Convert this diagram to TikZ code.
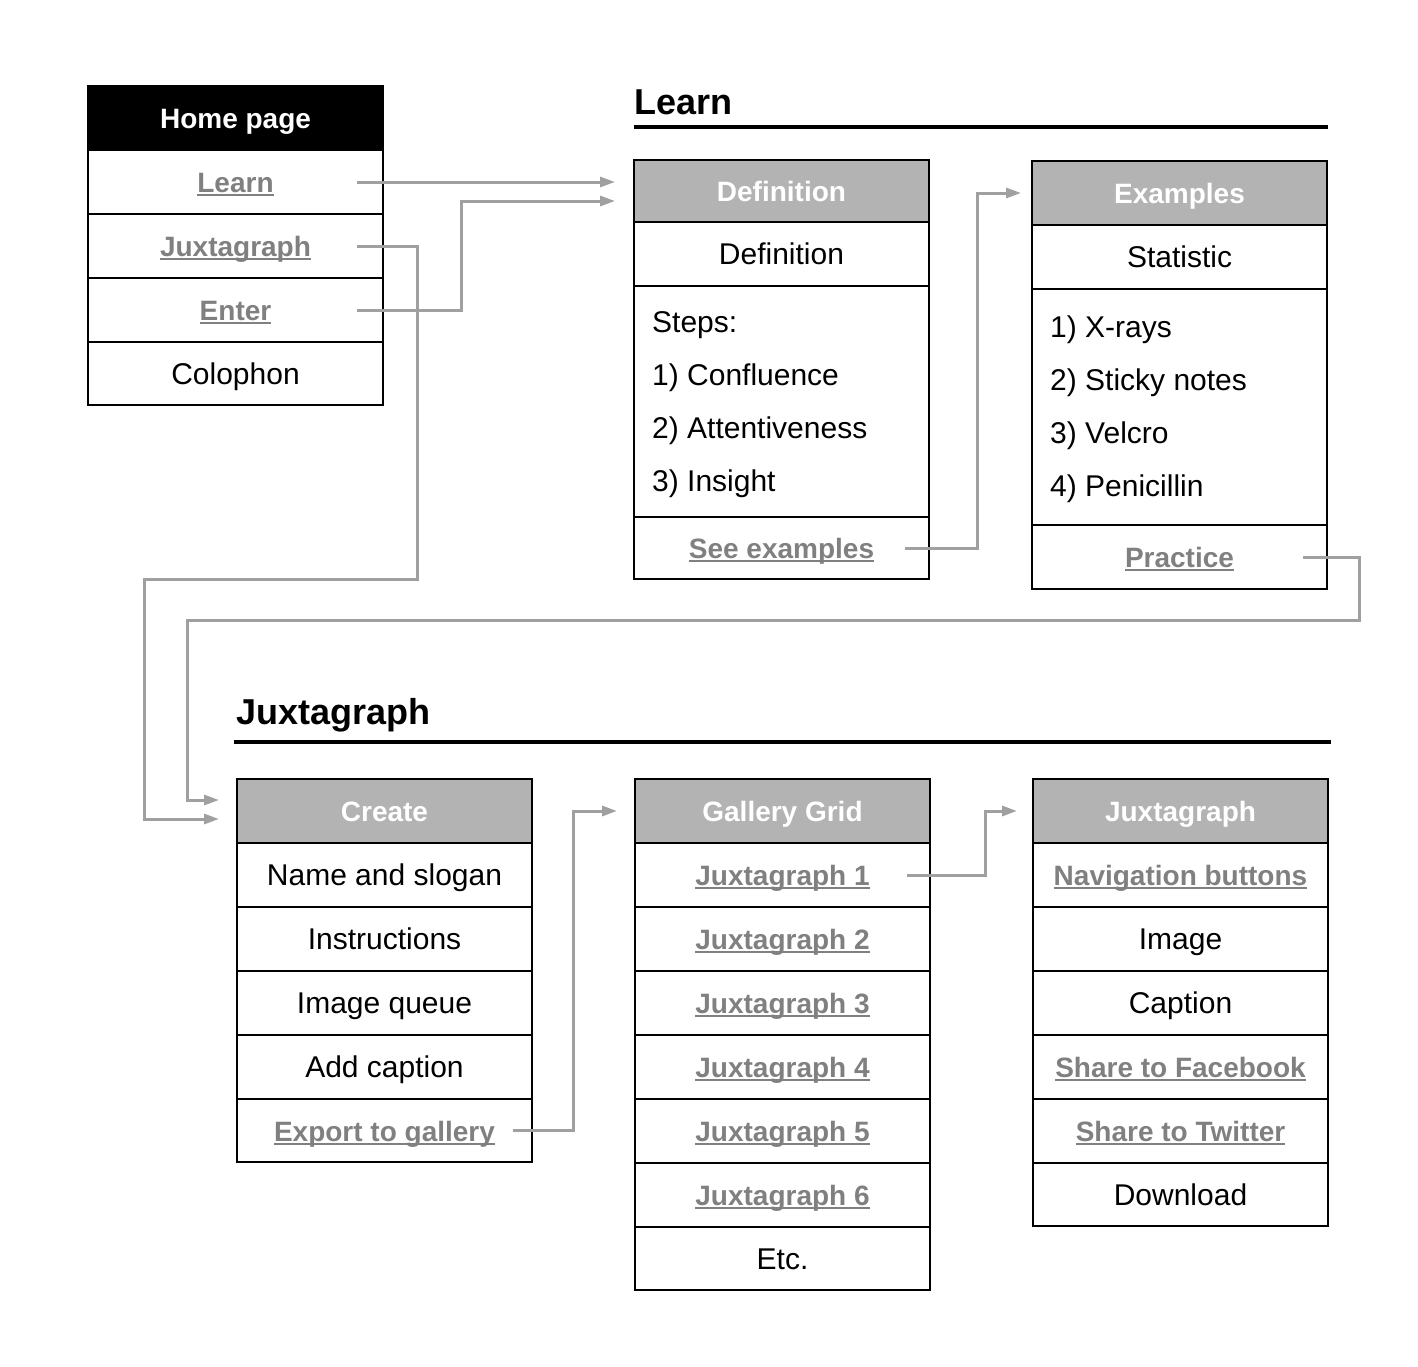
\documentclass[tikz,border=0pt]{standalone}
\usepackage{fontspec}
\setmainfont{Liberation Sans}
\usetikzlibrary{calc,arrows.meta}
\definecolor{hdr}{HTML}{B3B3B3}
\definecolor{lnkc}{HTML}{808080}
\definecolor{conc}{HTML}{A0A0A0}
\newcommand{\lnk}[1]{{\color{lnkc}\bfseries\fontsize{28}{34}\selectfont\setbox0\hbox{#1}\rlap{\rule[-3.5pt]{\wd0}{2pt}}\box0}}
\begin{document}
\begin{tikzpicture}[x=1pt,y=-1pt,
  cell/.style={draw=black,line width=1.4pt,minimum width=295pt,minimum height=64pt,inner sep=0pt,outer sep=0pt,anchor=north west,font=\fontsize{30}{36}\selectfont,text height=21.5pt,text depth=0pt},
  hcell/.style={cell,fill=hdr,text=white,font=\bfseries\fontsize{28}{34}\selectfont,text height=20pt},
  item/.style={inner sep=0pt,anchor=base west,font=\fontsize{30}{36}\selectfont},
  title/.style={inner sep=0pt,anchor=base west,font=\bfseries\fontsize{36}{42}\selectfont},
  conn/.style={draw=conc,line width=3pt,-{Triangle[length=15pt,width=10pt]}}]
\useasboundingbox (0,0) rectangle (1418,1366);

% Home page
\node[hcell,fill=black,minimum height=64pt] (hph) at (88,86) {Home page};
\node[cell] (hlearn) at (88,150) {\lnk{Learn}};
\node[cell] (hjux) at (88,214) {\lnk{Juxtagraph}};
\node[cell] (henter) at (88,278) {\lnk{Enter}};
\node[cell,minimum height=63pt] (hcol) at (88,342) {Colophon};

% Learn section
\node[title] (tlearn) at (634,114) {Learn};
\draw[line width=4pt] (634,127) -- (1328,127);

\node[hcell,minimum height=62pt] (dh) at (634,160) {Definition};
\node[cell] (ddef) at (634,222) {Definition};
\node[cell,minimum height=231pt] (dsteps) at (634,286) {};
\node[item] (s0) at (652,332.5) {Steps:};
\node[item] (s1) at (652,385.5) {1) Confluence};
\node[item] (s2) at (652,438.5) {2) Attentiveness};
\node[item] (s3) at (652,491.5) {3) Insight};
\node[cell,minimum height=62pt] (dsee) at (634,517) {\lnk{See examples}};

\node[hcell] (eh) at (1032,161) {Examples};
\node[cell] (estat) at (1032,225) {Statistic};
\node[cell,minimum height=236pt] (elist) at (1032,289) {};
\node[item] (e1) at (1050,337.5) {1) X-rays};
\node[item] (e2) at (1050,390.5) {2) Sticky notes};
\node[item] (e3) at (1050,443.5) {3) Velcro};
\node[item] (e4) at (1050,496.5) {4) Penicillin};
\node[cell] (eprac) at (1032,525) {\lnk{Practice}};

% Juxtagraph section
\node[title] (tjux) at (236,724) {Juxtagraph};
\draw[line width=4pt] (234,742) -- (1331,742);

\node[hcell] (ch) at (237,779) {Create};
\node[cell] (cname) at (237,843) {Name and slogan};
\node[cell] (cinst) at (237,907) {Instructions};
\node[cell] (cqueue) at (237,971) {Image queue};
\node[cell] (ccap) at (237,1035) {Add caption};
\node[cell,minimum height=63pt] (cexp) at (237,1099) {\lnk{Export to gallery}};

\node[hcell] (gh) at (635,779) {Gallery Grid};
\node[cell] (g1) at (635,843) {\lnk{Juxtagraph 1}};
\node[cell] (g2) at (635,907) {\lnk{Juxtagraph 2}};
\node[cell] (g3) at (635,971) {\lnk{Juxtagraph 3}};
\node[cell] (g4) at (635,1035) {\lnk{Juxtagraph 4}};
\node[cell] (g5) at (635,1099) {\lnk{Juxtagraph 5}};
\node[cell] (g6) at (635,1163) {\lnk{Juxtagraph 6}};
\node[cell,minimum height=63pt] (getc) at (635,1227) {Etc.};

\node[hcell] (jh) at (1033,779) {Juxtagraph};
\node[cell] (jnav) at (1033,843) {\lnk{Navigation buttons}};
\node[cell] (jimg) at (1033,907) {Image};
\node[cell] (jcap) at (1033,971) {Caption};
\node[cell] (jfb) at (1033,1035) {\lnk{Share to Facebook}};
\node[cell] (jtw) at (1033,1099) {\lnk{Share to Twitter}};
\node[cell,minimum height=63pt] (jdl) at (1033,1163) {Download};

% connectors
\draw[conn] ($(hlearn.east)+(-26,0)$) -- ($(dh.west)+(-19,-9)$);
\draw[conn] ($(henter.east)+(-26,0)$) -| (461,201) -- ($(dh.west)+(-19,10)$);
\draw[conn] ($(hjux.east)+(-26,0)$) -| (417,579) -| (144,819) -- ($(ch.west)+(-18,8)$);
\draw[conn] ($(dsee.east)+(-24,0)$) -| (977,193) -- ($(eh.west)+(-11,0)$);
\draw[conn] ($(eprac.east)+(-24,0)$) -| (1359,620) -| (187,800) -- ($(ch.west)+(-18,-11)$);
\draw[conn] ($(cexp.east)+(-19,0)$) -| (573,811) -- ($(gh.west)+(-18,0)$);
\draw[conn] ($(g1.east)+(-23,0)$) -| (985,811) -- ($(jh.west)+(-16,0)$);
\end{tikzpicture}
\end{document}
